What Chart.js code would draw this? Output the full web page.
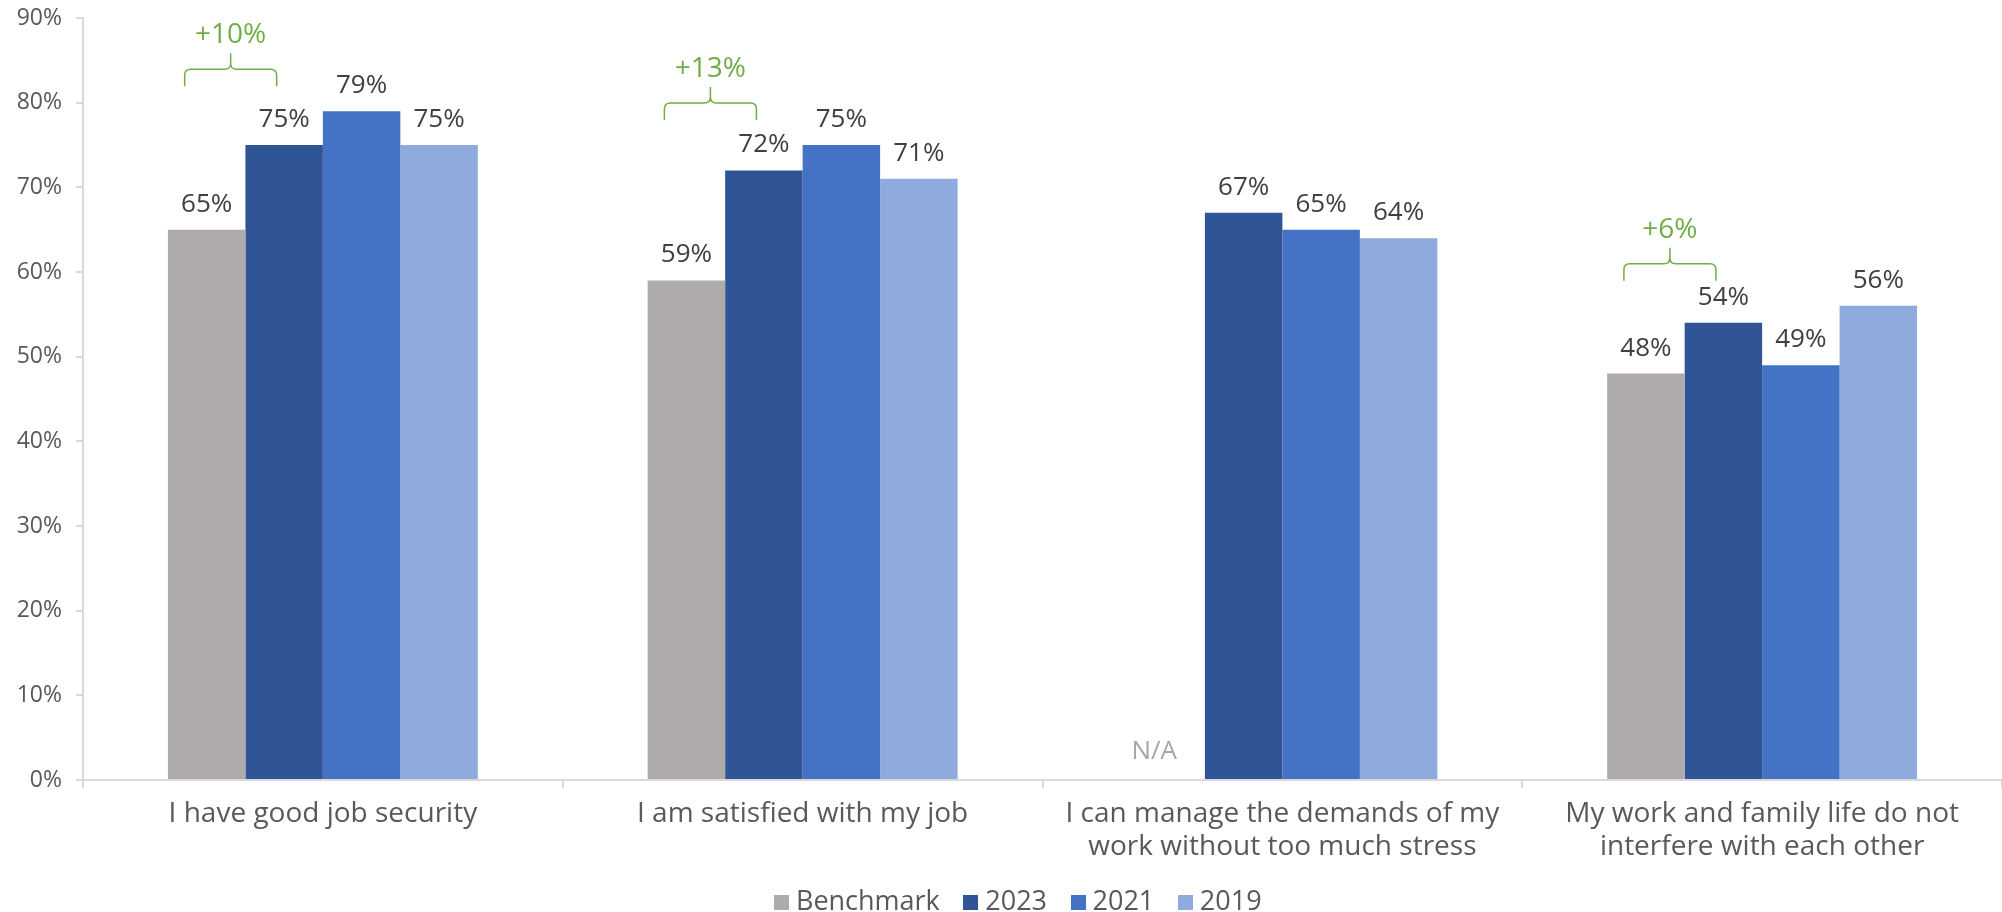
<!DOCTYPE html>
<html>
<head>
<meta charset="utf-8">
<script src="https://cdn.jsdelivr.net/npm/chart.js@4/dist/chart.umd.min.js"></script>
<style>
  html, body { margin: 0; padding: 0; background: #ffffff; }
  #wrap { width: 2002px; height: 912px; }
</style>
</head>
<body>
<div id="wrap"><canvas id="chart" width="2002" height="912"></canvas></div>
<script>
// Survey statements (multi-line labels as arrays)
const categories = [
  ["I have good job security"],
  ["I am satisfied with my job"],
  ["I can manage the demands of my", "work without too much stress"],
  ["My work and family life do not", "interfere with each other"]
];
const seriesNames = ["Benchmark", "2023", "2021", "2019"];
const benchmark = [65, 59, null, 48];
const values2023 = [75, 72, 67, 54];
const values2021 = [79, 75, 65, 49];
const values2019 = [75, 71, 64, 56];
const yTickValues = [0, 10, 20, 30, 40, 50, 60, 70, 80, 90];

const FONT = "'Open Sans', 'DejaVu Sans', sans-serif";
const TEXT = "#595959";
const AXIS = "#D9D9D9";
const GREEN = "#70AD47";
const colors = ["#AFABAB", "#2F5597", "#4472C4", "#8FAADC"];

// Small square swatches used as legend markers
function swatch(color) {
  const c = document.createElement("canvas");
  c.width = 15;
  c.height = 15;
  const g = c.getContext("2d");
  g.fillStyle = color;
  g.fillRect(0, 0, 15, 15);
  return c;
}
const swatches = colors.map(swatch);

// Centre the legend row a little right of the canvas middle
const legendOffset = {
  id: "legendOffset",
  afterLayout(chart) {
    if (chart.legend) chart.legend.left = 40;
  }
};

// Value labels above bars, "N/A" for missing benchmark values
const valueLabels = {
  id: "valueLabels",
  afterDatasetsDraw(chart) {
    const ctx = chart.ctx;
    const zeroY = chart.scales.y.getPixelForValue(0);
    ctx.save();
    ctx.textAlign = "center";
    ctx.textBaseline = "alphabetic";
    chart.data.datasets.forEach((ds, di) => {
      const meta = chart.getDatasetMeta(di);
      meta.data.forEach((bar, i) => {
        const v = ds.data[i];
        ctx.font = "26px " + FONT;
        if (v === null || v === undefined) {
          ctx.fillStyle = "#A6A6A6";
          ctx.fillText("N/A", bar.x - 12, zeroY - 21);
          return;
        }
        ctx.fillStyle = "#404040";
        ctx.fillText(v + "%", bar.x, bar.y - 18);
      });
    });
    ctx.restore();
  }
};

// Green braces showing the 2023 gain over the benchmark,
// set just above the tallest bar of the group
const gainBraces = {
  id: "gainBraces",
  afterDatasetsDraw(chart) {
    const ctx = chart.ctx;
    const yScale = chart.scales.y;
    const benchMeta = chart.getDatasetMeta(0);
    ctx.save();
    ctx.strokeStyle = GREEN;
    ctx.fillStyle = GREEN;
    ctx.lineWidth = 1.5;
    categories.forEach((c, i) => {
      if (benchmark[i] === null || values2023[i] === null) return;
      const gain = values2023[i] - benchmark[i];
      const top = Math.max(benchmark[i], values2023[i], values2021[i], values2019[i]);
      const L = benchMeta.data[i].x - 22;
      const R = L + 92;
      const M = (L + R) / 2;
      const yb = yScale.getPixelForValue(top) - 25;
      const yh = yb - 17;
      const yt = yh - 16;
      const r = 6;
      ctx.beginPath();
      ctx.moveTo(L, yb);
      ctx.lineTo(L, yh + r);
      ctx.quadraticCurveTo(L, yh, L + r, yh);
      ctx.lineTo(M - r, yh);
      ctx.quadraticCurveTo(M, yh, M, yh - r);
      ctx.lineTo(M, yt);
      ctx.moveTo(M, yh - r);
      ctx.quadraticCurveTo(M, yh, M + r, yh);
      ctx.lineTo(R - r, yh);
      ctx.quadraticCurveTo(R, yh, R, yh + r);
      ctx.lineTo(R, yb);
      ctx.stroke();
      ctx.font = "28px " + FONT;
      ctx.textAlign = "center";
      ctx.textBaseline = "middle";
      ctx.fillText("+" + gain + "%", M, yt - 18);
    });
    ctx.restore();
  }
};

const seriesData = [benchmark, values2023, values2021, values2019];

new Chart(document.getElementById("chart"), {
  type: "bar",
  data: {
    labels: categories,
    datasets: seriesNames.map((name, k) => ({
      label: name,
      data: seriesData[k],
      backgroundColor: colors[k],
      borderWidth: 0,
      categoryPercentage: 0.646,
      barPercentage: 1.0
    }))
  },
  options: {
    responsive: false,
    animation: false,
    devicePixelRatio: 1,
    layout: { padding: { top: 18, right: 0, left: 0, bottom: -14 } },
    plugins: {
      tooltip: { enabled: false },
      legend: {
        position: "bottom",
        labels: {
          font: { family: FONT, size: 27 },
          color: TEXT,
          usePointStyle: true,
          boxWidth: 2,
          boxHeight: 15,
          padding: 30,
          generateLabels(chart) {
            const items = Chart.defaults.plugins.legend.labels.generateLabels(chart);
            items.forEach((it, k) => { it.pointStyle = swatches[k]; });
            return items;
          }
        }
      }
    },
    scales: {
      x: {
        afterFit(scale) { scale.height = 79; },
        grid: {
          display: true,
          drawOnChartArea: false,
          drawTicks: true,
          tickLength: 8,
          color: AXIS,
          lineWidth: 2,
          offset: true
        },
        border: { display: true, color: AXIS, width: 2 },
        ticks: {
          font: { family: FONT, size: 28, lineHeight: 1.18 },
          color: TEXT,
          padding: 9.5,
          maxRotation: 0,
          autoSkip: false
        }
      },
      y: {
        min: 0,
        max: 90,
        afterFit(scale) {
          scale.width = 83;
          scale.paddingTop = 0;
          scale.paddingBottom = 0;
        },
        afterBuildTicks(scale) { scale.ticks = yTickValues.map(v => ({ value: v })); },
        grid: {
          display: true,
          drawOnChartArea: false,
          drawTicks: true,
          tickLength: 7,
          color: AXIS,
          lineWidth: 2
        },
        border: { display: true, color: AXIS, width: 2 },
        ticks: {
          font: { family: FONT, size: 23 },
          color: TEXT,
          padding: 14,
          callback: v => v + "%"
        }
      }
    }
  },
  plugins: [legendOffset, valueLabels, gainBraces]
});
</script>
</body>
</html>
